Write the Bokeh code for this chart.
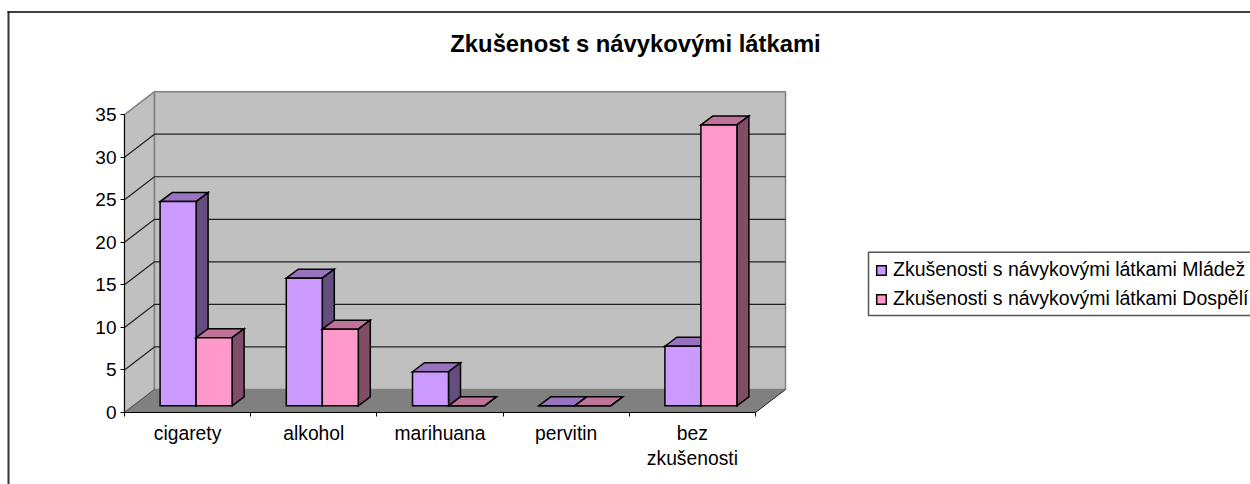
from bokeh.plotting import figure
from bokeh.models import LinearAxis, FixedTicker, Legend, LegendItem, Label, Range1d
from bokeh.embed import file_html
from bokeh.resources import INLINE

categories = ["cigarety", "alkohol", "marihuana", "pervitin", "bez\nzkušenosti"]
mladez = [24, 15, 4, 0, 7]
dospeli = [8, 9, 0, 0, 33]
y_ticks = [0, 5, 10, 15, 20, 25, 30, 35]
series_names = ["Zkušenosti s návykovými látkami Mládež", "Zkušenosti s návykovými látkami Dospělí"]
title_text = "Zkušenost s návykovými látkami"

W, H = 1250, 484
X0, Y0 = 124, 412          # canvas pixel of category 0 / value 0
SX, SY = 126.2, 8.51       # pixels per category / per value unit
FONT = "Liberation Sans"

p = figure(width=W, height=H, output_backend="svg", toolbar_location=None,
           x_range=Range1d(-X0 / SX, (W - X0) / SX),
           y_range=Range1d(-(H - Y0) / SY, Y0 / SY),
           min_border=0, outline_line_color=None, background_fill_color="white",
           x_axis_type=None, y_axis_type=None)
p.grid.visible = False

def dx(px): return px / SX
def dy(px): return px / SY
def cx(px): return (px - X0) / SX
def cy(py): return (Y0 - py) / SY

# plot box
n = len(categories)
ymax = y_ticks[-1]
wx, wy = dx(30), dy(23)
WALL, FLOOR, EDGE = "#C0C0C0", "#808080", "#808080"
p.patch([0, wx, wx, 0], [0, wy, ymax + wy, ymax], fill_color=WALL, line_color=EDGE, line_width=1.5)
p.patch([wx, n + wx, n + wx, wx], [wy, wy, ymax + wy, ymax + wy], fill_color=WALL, line_color=EDGE, line_width=1.5)
p.patch([0, n, n + wx, wx], [0, 0, wy, wy], fill_color=FLOOR, line_color=None)
p.line([n, n + wx], [0, wy], line_color="#222222", line_width=1)
p.line([0, wx], [0, wy], line_color="#555555", line_width=1)
for t in y_ticks[1:-1]:
    p.line([0, wx, n + wx], [t, t + wy, t + wy], line_color="#222222", line_width=1.2)

# bars
bar_w = dx(36)
off = dx(35.6)
bx, by = dx(12), dy(9)
base = dy(6.7)
styles = [("#CC99FF", "#9973BF", "#664D80"), ("#FF99CC", "#BF7399", "#804D66")]
legend_refs = []
for i in range(n):
    for s, vals in enumerate((mladez, dospeli)):
        v = vals[i]
        x0 = i + off + s * bar_w
        x1 = x0 + bar_w
        kw = dict(line_color="black", line_width=1.5, line_join="miter")
        front, top, side = styles[s]
        p.patch([x0, x0 + bx, x1 + bx, x1], [v + base, v + base + by, v + base + by, v + base], fill_color=top, **kw)
        p.patch([x1, x1 + bx, x1 + bx, x1], [base, base + by, v + base + by, v + base], fill_color=side, **kw)
        r = p.patch([x0, x1, x1, x0], [base, base, v + base, v + base], fill_color=front, **kw)
        if i == 0:
            legend_refs.append(r)

# axes
left = LinearAxis(fixed_location=0, bounds=(0, ymax), ticker=FixedTicker(ticks=y_ticks))
left.major_tick_in = 0; left.major_tick_out = 4; left.minor_tick_out = 0; left.minor_tick_in = 0
left.axis_line_color = "black"; left.major_tick_line_color = "black"
left.major_label_text_font = FONT; left.major_label_text_font_size = "19px"
left.major_label_text_color = "black"; left.major_label_standoff = 4
p.add_layout(left, "left")

bottom = LinearAxis(fixed_location=0, bounds=(0, n), ticker=FixedTicker(ticks=list(range(n + 1))),
                    major_label_text_font_size="0px")
bottom.major_tick_in = 0; bottom.major_tick_out = 4; bottom.minor_tick_out = 0; bottom.minor_tick_in = 0
bottom.axis_line_color = "black"; bottom.major_tick_line_color = "black"
bottom.major_label_overrides = {i: "" for i in range(n + 1)}
p.add_layout(bottom, "below")

labels_axis = LinearAxis(fixed_location=0, ticker=FixedTicker(ticks=[i + 0.5 for i in range(n)]))
labels_axis.axis_line_color = None; labels_axis.major_tick_line_color = None
labels_axis.minor_tick_line_color = None; labels_axis.major_tick_out = 0; labels_axis.major_tick_in = 0
labels_axis.major_label_overrides = {i + 0.5: c for i, c in enumerate(categories)}
labels_axis.major_label_text_font = FONT; labels_axis.major_label_text_font_size = "19.3px"
labels_axis.major_label_text_color = "black"; labels_axis.major_label_standoff = 10
p.add_layout(labels_axis, "below")

# chart frame: only its left and top edges fall inside the picture
p.line([cx(8), cx(8)], [cy(H + 20), cy(11)], line_color="#333333", line_width=2)
p.line([cx(7), cx(W + 20)], [cy(11.5), cy(11.5)], line_color="black", line_width=1.5)

# title
p.add_layout(Label(x=cx(635), y=cy(43), text=title_text, text_font=FONT, text_font_style="bold",
                   text_font_size="23.8px", text_color="black", text_align="center", text_baseline="middle"))

# legend box (open on the right, where it runs off the page)
p.line([cx(W + 20), cx(868), cx(868), cx(W + 20)], [cy(251.7), cy(251.7), cy(315), cy(315)],
       line_color="#555555", line_width=1.5)

# legend
legend = Legend(items=[LegendItem(label=series_names[k], renderers=[legend_refs[k]]) for k in range(2)],
                location=(875, 174), orientation="vertical", glyph_width=12, glyph_height=12,
                label_standoff=6, label_text_font=FONT, label_text_font_size="19.5px", label_text_color="black",
                padding=8, spacing=6, margin=0, border_line_color=None,
                background_fill_alpha=0, label_height=20)
p.add_layout(legend, "center")

open("out.html", "w").write(file_html(p, INLINE))
